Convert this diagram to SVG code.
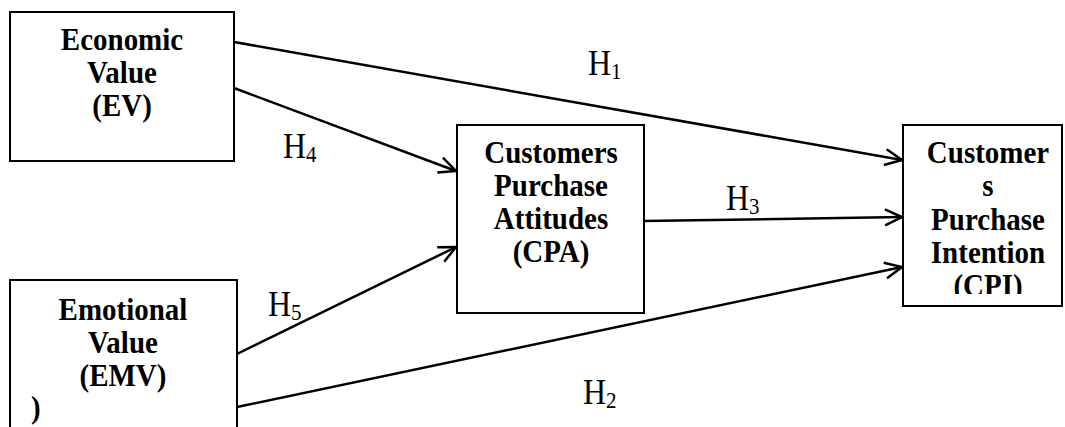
<svg xmlns="http://www.w3.org/2000/svg" width="1065" height="427" viewBox="0 0 1065 427">
<style>
.box{fill:#fff;stroke:#000;stroke-width:2}
.t{font-weight:bold;font-size:29px;text-anchor:middle;fill:#000}
.h{font-size:32px;fill:#000}
.sub{font-size:21px}
.c{fill:none;stroke:#000;stroke-width:2.5}
</style>
<defs>
<marker id="arr" viewBox="-20 -10 22 20" refX="0" refY="0" markerWidth="22" markerHeight="20" markerUnits="userSpaceOnUse" orient="auto" overflow="visible">
<path d="M-17,-8 L0,0 L-17,8" fill="none" stroke="#000" stroke-width="2.5"/>
</marker>
<clipPath id="cpiClip"><rect x="903" y="125" width="160" height="169"/></clipPath>
</defs>
<rect width="1065" height="427" fill="#fff"/>
<g id="connectors" font-family="'Liberation Serif', serif">
<line class="c" x1="234" y1="42" x2="902" y2="160" marker-end="url(#arr)"/>
<line class="c" x1="234" y1="88" x2="456" y2="171" marker-end="url(#arr)"/>
<line class="c" x1="644" y1="221" x2="902" y2="217" marker-end="url(#arr)"/>
<line class="c" x1="237" y1="354" x2="456" y2="247" marker-end="url(#arr)"/>
<line class="c" x1="237" y1="407" x2="902" y2="267" marker-end="url(#arr)"/>
<text class="h" transform="translate(588,75) scale(1,1.1)">H<tspan class="sub" dy="4">1</tspan></text>
<text class="h" transform="translate(283,158) scale(1,1.1)">H<tspan class="sub" dy="4">4</tspan></text>
<text class="h" transform="translate(726,210) scale(1,1.1)">H<tspan class="sub" dy="4">3</tspan></text>
<text class="h" transform="translate(268,316) scale(1,1.1)">H<tspan class="sub" dy="4">5</tspan></text>
<text class="h" transform="translate(583,404) scale(1,1.1)">H<tspan class="sub" dy="4">2</tspan></text>
</g>
<g id="ev" font-family="'Liberation Serif', serif">
<rect class="box" x="10" y="12" width="224" height="149"/>
<text class="t" transform="translate(122,50) scale(1,1.12)">Economic</text>
<text class="t" transform="translate(122,83) scale(1,1.12)">Value</text>
<text class="t" transform="translate(122,116) scale(1,1.12)">(EV)</text>
</g>
<g id="emv" font-family="'Liberation Serif', serif">
<rect class="box" x="10" y="280" width="227" height="160"/>
<text class="t" transform="translate(123,320) scale(1,1.12)">Emotional</text>
<text class="t" transform="translate(123,353) scale(1,1.12)">Value</text>
<text class="t" transform="translate(123,386) scale(1,1.12)">(EMV)</text>
<text class="t" transform="translate(31,418) scale(1,1.12)" style="text-anchor:start">)</text>
</g>
<g id="cpa" font-family="'Liberation Serif', serif">
<rect class="box" x="457" y="125" width="187" height="188"/>
<text class="t" transform="translate(551,163) scale(1,1.12)">Customers</text>
<text class="t" transform="translate(551,196) scale(1,1.12)">Purchase</text>
<text class="t" transform="translate(551,229) scale(1,1.12)">Attitudes</text>
<text class="t" transform="translate(551,262) scale(1,1.12)">(CPA)</text>
</g>
<g id="cpi" font-family="'Liberation Serif', serif">
<rect class="box" x="903" y="125" width="159" height="181"/>
<g clip-path="url(#cpiClip)">
<text class="t" transform="translate(988,163) scale(1,1.12)">Customer</text>
<text class="t" transform="translate(988,196) scale(1,1.12)">s</text>
<text class="t" transform="translate(988,230) scale(1,1.12)">Purchase</text>
<text class="t" transform="translate(988,263) scale(1,1.12)">Intention</text>
<text class="t" transform="translate(988,296) scale(1,1.12)">(CPI)</text>
</g>
</g>
</svg>
